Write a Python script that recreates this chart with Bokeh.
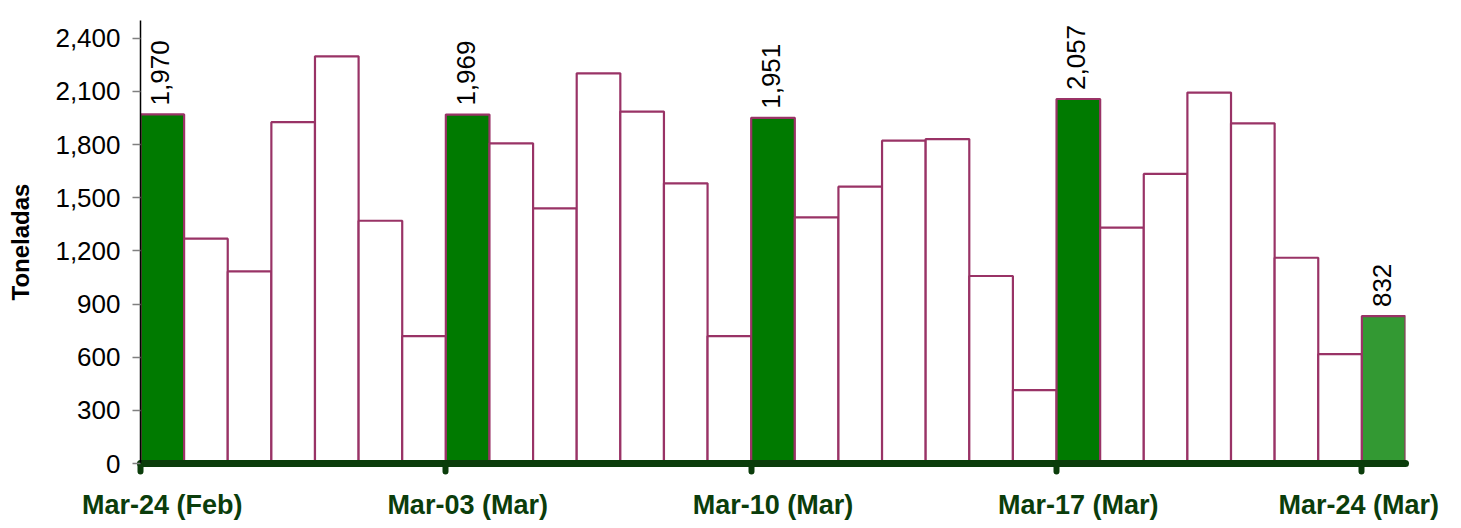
import math
from bokeh.plotting import figure
from bokeh.models import ColumnDataSource, FixedTicker, Range1d, LinearAxis, NumeralTickFormatter
from bokeh.core.properties import value
from bokeh.embed import file_html
from bokeh.resources import INLINE

# ---- data ----
values = [1970, 1269, 1084, 1926, 2298, 1370, 719,
          1969, 1807, 1440, 2202, 1986, 1581, 719,
          1951, 1389, 1562, 1822, 1831, 1058, 414,
          2057, 1331, 1634, 2093, 1920, 1161, 617,
          832]
highlight = [0, 7, 14, 21, 28]
tick_labels = ["Mar-24 (Feb)", "Mar-03 (Mar)", "Mar-10 (Mar)", "Mar-17 (Mar)", "Mar-24 (Mar)"]
y_ticks = [0, 300, 600, 900, 1200, 1500, 1800, 2100, 2400]

GREEN = "#007a00"
GREEN_LAST = "#339933"
OUTLINE = "#993366"
AXIS_GREEN = "#0b3d0b"
FONT = "Liberation Sans"

n = len(values)
fills = []
for i in range(n):
    if i == n - 1:
        fills.append(GREEN_LAST)
    elif i in highlight:
        fills.append(GREEN)
    else:
        fills.append("white")

src = ColumnDataSource(dict(
    left=[i for i in range(n)],
    right=[i + 1 for i in range(n)],
    top=values,
    fill=fills,
))

lab_src = ColumnDataSource(dict(
    x=[i + 0.5 for i in highlight],
    y=[values[i] for i in highlight],
    text=[f"{values[i]:,}" for i in highlight],
))

# label positions: bar centres; the last one is pulled left so it stays inside the canvas
label_pos = [i + 0.5 for i in highlight]
label_pos[-1] = label_pos[-1] - 0.57

p = figure(width=1453, height=524, output_backend="svg", toolbar_location=None,
           x_range=Range1d(0, n), y_range=Range1d(0, 2500),
           min_border_left=140, min_border_right=48, min_border_top=20, min_border_bottom=61)
p.outline_line_color = None
p.grid.visible = False
p.background_fill_color = "white"
p.border_fill_color = "white"

p.quad(left="left", right="right", bottom=0, top="top", source=src,
       fill_color="fill", line_color=OUTLINE, line_width=2.2)

p.text(x="x", y="y", text="text", source=lab_src, angle=math.pi / 2,
       text_align="left", text_baseline="middle", y_offset=-9, x_offset=-2,
       text_font_size="26px", text_color="black", text_font=value(FONT))

# y axis
ya = p.yaxis[0]
ya.ticker = FixedTicker(ticks=y_ticks)
ya.formatter = NumeralTickFormatter(format="0,0")
ya.axis_line_color = "black"
ya.axis_line_width = 1.5
ya.major_tick_line_color = "#808080"
ya.major_tick_line_width = 1.5
ya.major_tick_out = 8
ya.major_tick_in = 0
ya.minor_tick_line_color = None
ya.major_label_text_font = FONT
ya.major_label_text_font_size = "26px"
ya.major_label_text_color = "black"
ya.major_label_standoff = 12
ya.axis_label = "Toneladas"
ya.axis_label_text_font = FONT
ya.axis_label_text_font_size = "24px"
ya.axis_label_text_font_style = "bold"
ya.axis_label_text_color = "black"
ya.axis_label_standoff = 18

# x axis: line + tick marks at the week starts (bar left edges)
xa = p.xaxis[0]
xa.ticker = FixedTicker(ticks=highlight)
xa.major_label_overrides = {t: "" for t in highlight}
xa.major_label_text_font_size = "0px"
xa.major_label_standoff = 0
xa.axis_line_color = AXIS_GREEN
xa.axis_line_width = 7
xa.axis_line_cap = "round"
xa.major_tick_line_color = AXIS_GREEN
xa.major_tick_line_width = 6
xa.major_tick_line_cap = "round"
xa.major_tick_out = 8
xa.major_tick_in = 0
xa.minor_tick_line_color = None

# x axis labels, centred on the highlighted bars
xl = LinearAxis(ticker=FixedTicker(ticks=label_pos))
xl.major_label_overrides = {t: l for t, l in zip(label_pos, tick_labels)}
xl.axis_line_color = None
xl.major_tick_line_color = None
xl.minor_tick_line_color = None
xl.major_tick_out = 0
xl.major_tick_in = 0
xl.major_label_text_font = FONT
xl.major_label_text_font_size = "27px"
xl.major_label_text_font_style = "bold"
xl.major_label_text_color = AXIS_GREEN
xl.major_label_standoff = 18
p.add_layout(xl, "below")

open("out.html", "w").write(file_html(p, INLINE))
